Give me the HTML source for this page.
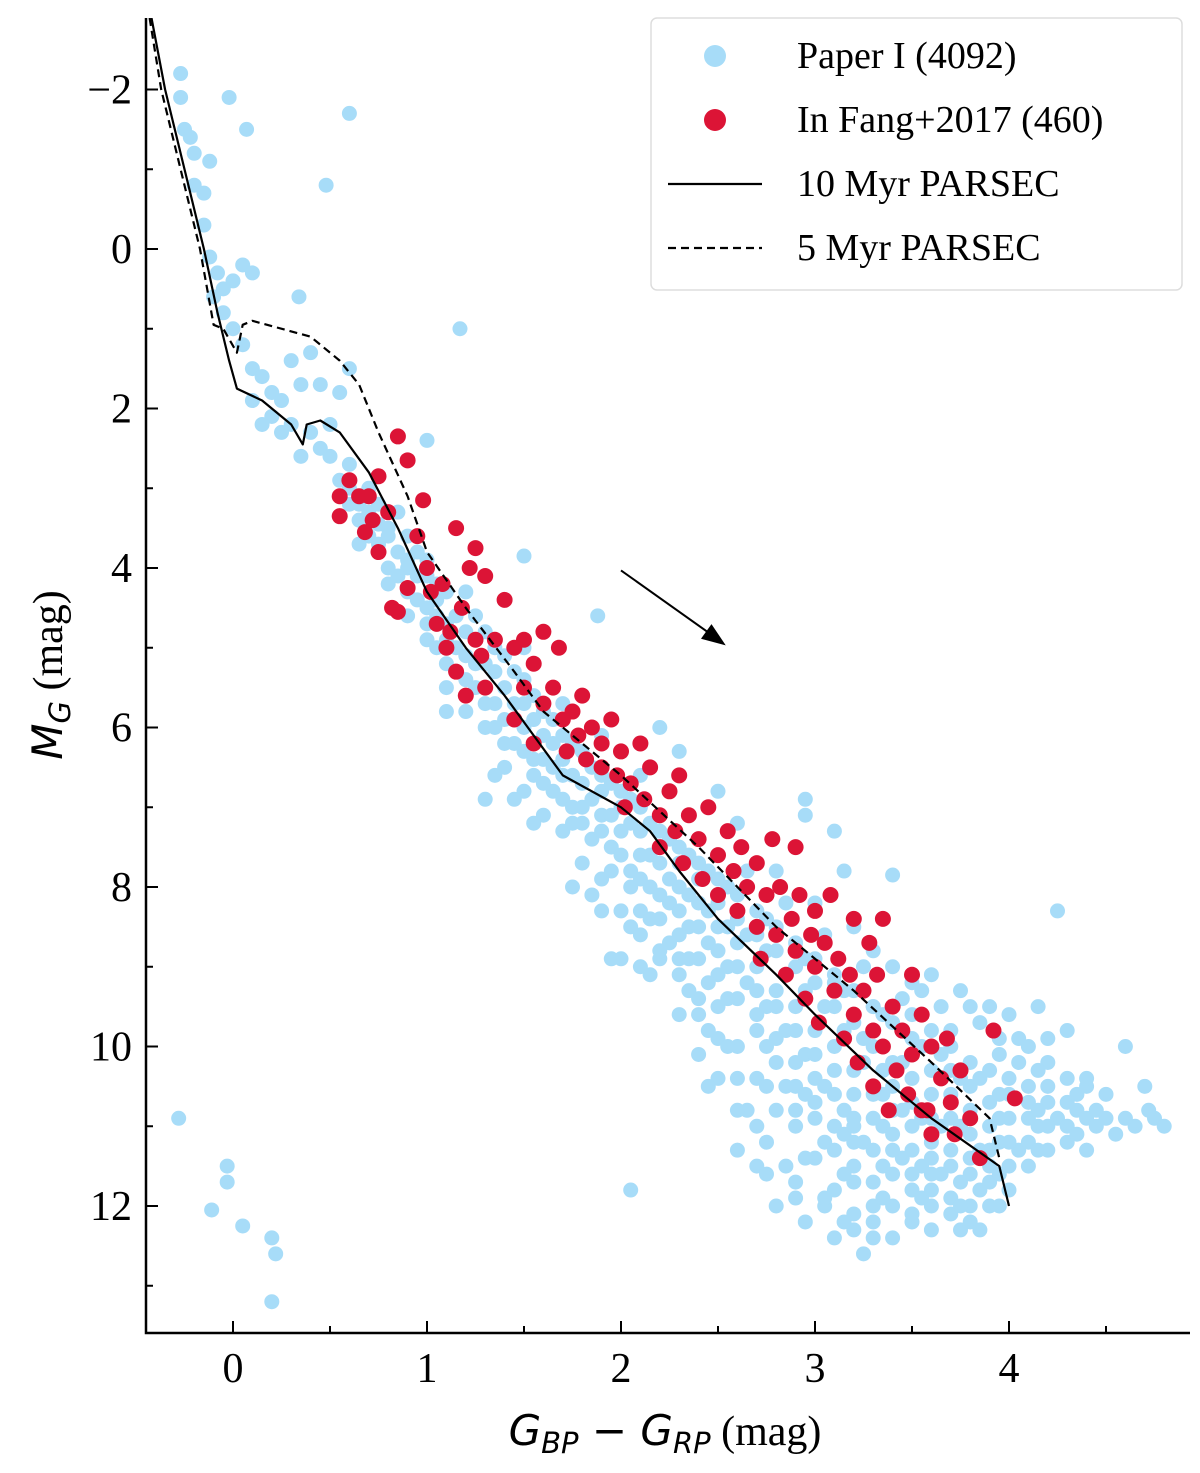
<!DOCTYPE html>
<html><head><meta charset="utf-8"><style>
html,body{margin:0;padding:0;background:#fff;}
svg{display:block;}
text{font-family:"Liberation Serif",serif;fill:#000;}
</style></head><body>
<svg id="chart" width="1200" height="1473" viewBox="0 0 1200 1473" xmlns="http://www.w3.org/2000/svg">
<g id="blue"></g>
<g id="red"></g>
<g id="lines"></g>
<g id="axes"></g>
</svg>
<script>
const xTicks = [0,1,2,3,4];
const yTicks = [-2,0,2,4,6,8,10,12];
const xMinor = [-0.5,0.5,1.5,2.5,3.5,4.5];
const yMinor = [-3,-1,1,3,5,7,9,11,13];
const bluePts = [[-0.27,-2.2],[-0.27,-1.9],[-0.25,-1.5],[-0.22,-1.4],[-0.2,-1.2],[-0.12,-1.1],[-0.2,-0.8],[-0.15,-0.7],[-0.02,-1.9],[0.07,-1.5],[0.6,-1.7],[0.48,-0.8],[0.34,0.6],[1.17,1.0],[0.6,1.5],[-0.28,10.9],[-0.03,11.5],[-0.03,11.7],[-0.11,12.05],[0.05,12.25],[0.2,12.4],[0.22,12.6],[0.2,13.2],[2.05,11.8],[3.4,7.85],[4.25,8.3],[1.5,3.85],[1.88,4.6],[1.0,2.4],
[-0.15,-0.3],[-0.12,0.1],[-0.08,0.3],[-0.05,0.5],[0,0.4],[-0.1,0.6],[-0.05,0.8],[0.05,0.2],[0.1,0.3],[0.0,1.0],[0.05,1.2],[0.1,1.5],[0.15,1.6],[0.2,1.8],[0.25,1.9],[0.1,1.9],[0.2,2.1],[0.3,2.2],[0.3,1.4],[0.4,1.3],[0.35,1.7],[0.45,1.7],[0.4,2.3],[0.5,2.6],[0.55,2.9],[0.6,2.7],[0.5,2.2],[0.45,2.5],[0.6,3.2],[0.65,3.4],[0.7,3.6],[0.6,3.0],[0.7,3.0],[0.55,1.8],[0.25,2.3],[0.15,2.2],[0.35,2.6],
[0.7,3.3],[0.75,3.7],[0.8,3.5],[0.8,4.0],[0.85,3.8],[0.9,3.9],[0.9,4.3],[0.95,4.1],[1.0,4.5],[1.0,4.9],[1.05,4.4],[1.1,4.7],[1.1,5.2],[1.15,5.0],[1.2,5.4],[1.2,5.8],[1.25,5.2],[1.3,5.5],[1.3,6.0],[1.35,5.7],[1.4,5.9],[1.4,6.5],[1.45,6.2],[1.5,6.0],[1.5,6.8],[1.55,6.4],[1.6,6.7],[1.6,7.1],[1.65,6.5],[1.7,6.9],[1.7,7.3],[1.75,7.0],[1.8,7.2],[1.8,7.7],[1.85,7.4],[1.9,7.1],[1.9,7.9],[1.95,7.5],[2.0,7.3],[2.0,8.3],[2.05,7.8],[2.1,7.6],[2.1,8.6],[2.15,8.0],[2.2,7.7],[2.2,8.9],[2.25,8.2],[2.3,8.0],[2.3,8.9],[2.35,8.5],[2.4,8.2],[2.4,9.4],[2.45,8.7],[2.5,8.5],[2.5,9.9],[2.55,9.0],[2.6,8.7],[2.6,10.0],[2.65,9.2],[2.7,9.0],[2.7,10.4],[2.75,9.5],[2.8,9.3],[2.8,10.8],[2.85,9.8],[2.9,9.5],[2.9,11.0],[2.95,10.1],[3.0,9.8],[3.0,11.4],[3.05,10.5],[3.1,10.0],[3.1,11.8],[3.15,10.8],[3.2,10.3],[3.2,12.1],[3.25,11.2],[3.3,10.6],[3.3,11.7],[3.35,11.0],[3.4,10.8],[3.4,12.0],[3.45,11.4],[3.5,11.0],[3.5,11.8],[3.55,11.5],[3.6,11.2],[3.6,12.0],[3.65,11.6],[3.7,11.3],[3.7,12.1],[3.75,11.7],[3.8,11.4],[3.8,12.2],[3.85,11.8],[3.9,11.5],[3.9,12.0],[3.95,11.2],[4.0,10.9],[4.0,11.8],[4.05,11.3],[4.1,10.7],[4.1,11.5],[4.15,11.0],[4.2,10.5],[4.2,11.3],[4.25,10.9],[4.3,10.4],[4.3,11.2],[4.35,10.8],[4.4,10.5],[4.4,11.3],[4.5,10.9],[4.55,11.1],[4.6,10.0],[4.65,11.0],[4.7,10.5],[4.75,10.9],[4.72,10.8],
[1.0,3.9],[1.2,4.3],[1.5,5.0],[1.7,5.7],[1.9,6.1],[2.1,6.6],[2.2,6.0],[2.3,6.3],[2.5,6.8],[2.6,7.2],[2.8,7.8],[2.95,6.9],[2.95,7.1],[3.0,8.2],[3.1,7.3],[3.15,7.8],[3.2,8.5],[3.3,8.8],[3.4,9.0],[3.5,9.2],[3.6,9.1],[3.65,9.5],[3.7,9.8],[3.75,9.3],[3.85,9.7],[3.9,9.5],[3.95,10.1],[4.0,9.6],[4.05,9.9],[4.1,10.0],[4.15,9.5],[4.2,9.9],[4.3,9.8],[3.3,9.5],[3.5,9.9],[3.6,10.3],[3.7,10.6],[3.8,10.8],[3.45,10.2],[3.25,9.9],[3.1,9.2],[3.35,10.3],
[1.9,8.3],[1.95,8.9],[2.0,8.9],[2.05,8.5],[2.1,9.0],[2.2,8.8],[2.3,9.1],[2.3,9.6],[2.35,9.3],[2.4,9.6],[2.45,9.8],[2.4,10.1],[2.5,10.4],[2.55,10.0],[2.6,10.4],[2.65,10.8],[2.7,11.0],[2.75,11.2],[2.85,11.5],[2.9,11.9],[2.95,12.2],[3.05,12.0],[3.1,12.4],[3.15,12.2],[3.25,12.6],[3.3,12.4],[2.8,12.0],[2.7,11.5],[1.85,8.1],[1.75,8.0],[1.45,6.9],[1.55,7.2],[1.35,6.6],[1.1,5.8],[1.3,6.9],[2.15,9.1],[2.45,10.5],[2.1,8.3],[2.5,9.5],[2.7,9.8],[2.85,10.5],[3.0,10.9],[3.2,11.5],[3.3,12.2],[3.5,12.2],[3.6,11.4],[3.75,12.3],[3.85,12.3],[3.95,12.0]];
// extra dense-band stars grouped by colour column: [colour, [magnitudes]]
const blueCols = [
[0.8,[3.6,4.2]],[0.9,[3.6,4.0,4.6]],[1.0,[4.1,4.7]],[1.1,[4.3,4.9,5.5]],[1.2,[4.8,5.1]],[1.3,[4.8,5.2,5.7]],
[1.4,[5.1,5.5,6.2]],[1.5,[5.4,5.7,6.3]],[1.6,[5.8,6.1,6.4]],[1.7,[6.1,6.4,6.6]],[1.8,[6.3,6.7,7.0]],
[1.9,[6.6,6.8,7.3]],[2.0,[6.8,7.0,7.6]],[2.1,[7.0,7.3,7.9]],[2.2,[7.3,7.5,8.1,8.4]],[2.3,[7.5,7.7,8.3,8.6]],
[2.4,[7.7,7.9,8.5,8.9]],[2.5,[7.9,8.2,8.8,9.1]],[2.6,[8.1,8.4,9.0,9.4]],[2.7,[8.3,8.6,9.3,9.6]],
[2.8,[8.5,8.8,9.5,9.9,10.2]],[2.9,[8.7,9.0,9.8,10.2,10.5]],[3.0,[8.9,9.2,10.1,10.4,10.7]],
[3.1,[9.1,9.5,10.3,10.6,11.0,11.3]],[3.2,[9.3,9.7,10.6,10.9,11.2,11.7]],[3.3,[9.5,10.0,10.9,11.3,12.0]],
[3.4,[9.7,10.2,10.5,11.1,11.6]],[3.5,[9.6,10.4,10.7,11.3,11.6,12.1]],[3.6,[9.8,10.6,10.9,11.6]],
[3.7,[10.0,10.3,10.9,11.5,11.9]],[3.8,[10.2,10.5,11.1,11.6,12.0]],[3.9,[10.3,10.7,11.0,11.3,11.7]],
[4.0,[10.4,10.6,11.2,11.5]],[4.1,[10.5,10.9,11.2]],[4.2,[10.2,10.7,11.0]],[4.3,[10.7,11.0]],[4.4,[10.4,10.9]],[4.5,[10.6]],
[3.55,[9.3]],[3.8,[9.5]],[3.95,[9.9]],[4.05,[10.2]],[2.65,[7.8,8.6]],[2.85,[8.2,9.1]],[3.05,[8.6,9.5]],[3.25,[9.0,10.2]],[3.45,[9.4,10.8]],[3.65,[10.1,11.0]],[3.85,[10.4,11.3]],
[0.65,[3.2,3.7]],[0.75,[3.2,3.45]],[0.85,[3.3,4.1]],[0.95,[3.8,4.4]],[1.05,[4.2,4.6,5.0]],[1.15,[4.6,5.3]],[1.25,[4.6,5.5]],[1.35,[5.0,5.3,6.0]],
[1.45,[5.3,5.7]],[1.55,[5.6,5.9,6.6]],[1.65,[5.9,6.2,6.8]],[1.75,[6.2,6.6,7.2]],[1.85,[6.5,6.9]],[1.95,[6.7,7.1,7.8]],[2.05,[6.9,7.2,8.0]],
[2.15,[7.2,7.6,8.4]],[2.25,[7.4,7.9,8.7]],[2.35,[7.6,8.1,8.9]],[2.45,[7.8,8.3,9.2]],[2.55,[8.0,8.5,9.4]],[2.75,[8.4,8.8,10.0]],
[2.95,[8.9,9.3,10.6,11.4]],[3.15,[9.3,9.8,11.1,11.6]],[3.35,[9.6,10.6,11.5,11.9]],[3.55,[10.0,10.9,11.9]],[3.75,[10.4,11.0,12.0]],
[3.95,[10.6,10.9,11.6]],[4.15,[10.3,10.8,11.3]],[4.35,[10.6,11.1]],[4.45,[10.8,11.0]],[4.6,[10.9]],[4.8,[11.0]],
[2.6,[10.8,11.3]],[2.75,[10.5,11.6]],[2.9,[10.8,11.7]],[3.05,[11.2,11.9]],[3.2,[11.0,12.3]],[3.4,[11.3,12.4]],[3.6,[11.8,12.3]]
];
const redPts = [[0.55,3.1],[0.55,3.35],[0.6,2.9],[0.65,3.1],[0.68,3.55],[0.7,3.1],[0.72,3.4],[0.75,2.85],[0.75,3.8],[0.8,3.3],[0.82,4.5],[0.85,4.55],[0.85,2.35],[0.9,2.65],[0.9,4.25],[0.95,3.6],[0.98,3.15],[1.0,4.0],[1.02,4.3],[1.05,4.7],[1.08,4.2],[1.1,5.0],[1.12,4.8],[1.15,3.5],[1.15,5.3],[1.18,4.5],[1.2,5.6],[1.22,4.0],[1.25,3.75],[1.25,4.9],[1.28,5.1],[1.3,4.1],[1.3,5.5],[1.35,4.9],[1.4,4.4],[1.45,5.0],[1.45,5.9],[1.5,5.5],[1.5,4.9],[1.55,5.2],[1.55,6.2],[1.6,4.8],[1.6,5.7],[1.65,5.5],[1.68,5.0],[1.7,5.9],[1.72,6.3],[1.75,5.8],[1.78,6.1],[1.8,5.6],[1.82,6.4],[1.85,6.0],[1.9,6.5],[1.9,6.2],[1.95,5.9],[1.98,6.6],[2.0,6.3],[2.02,7.0],[2.05,6.7],[2.1,6.2],[2.12,6.9],[2.15,6.5],[2.2,7.1],[2.2,7.5],[2.25,6.8],[2.28,7.3],[2.3,6.6],[2.32,7.7],[2.35,7.1],[2.4,7.4],[2.42,7.9],[2.45,7.0],[2.5,7.6],[2.5,8.1],[2.55,7.3],[2.58,7.8],[2.6,8.3],[2.62,7.5],[2.65,8.0],[2.7,7.7],[2.7,8.5],[2.72,8.9],[2.75,8.1],[2.78,7.4],[2.8,8.6],[2.82,8.0],[2.85,9.1],[2.88,8.4],[2.9,7.5],[2.9,8.8],[2.92,8.1],[2.95,9.4],[2.98,8.6],[3.0,8.3],[3.0,9.0],[3.02,9.7],[3.05,8.7],[3.08,8.1],[3.1,9.3],[3.12,8.9],[3.15,9.9],[3.18,9.1],[3.2,8.4],[3.2,9.6],[3.22,10.2],[3.25,9.3],[3.28,8.7],[3.3,9.8],[3.3,10.5],[3.32,9.1],[3.35,10.0],[3.35,8.4],[3.38,10.8],[3.4,9.5],[3.42,10.3],[3.45,9.8],[3.48,10.6],[3.5,9.1],[3.5,10.1],[3.55,9.6],[3.55,10.8],[3.6,10.0],[3.6,11.1],[3.65,10.4],[3.68,9.9],[3.7,10.7],[3.72,11.1],[3.75,10.3],[3.8,10.9],[3.85,11.4],[3.92,9.8],[4.03,10.65],[3.58,10.8]];
const iso10c = [-0.42,-0.35,-0.25,-0.15,-0.08,-0.02,0.02,0.15,0.3,0.36,0.38,0.45,0.55,0.7,0.85,1.0,1.2,1.4,1.55,1.7,2.0,2.15,2.3,2.5,2.8,3.0,3.3,3.6,3.95,4.0];
const iso10m = [-2.9,-2,-1,0,0.8,1.4,1.75,1.9,2.2,2.45,2.2,2.15,2.3,2.8,3.5,4.3,5.0,5.6,6.1,6.6,7.0,7.3,7.8,8.4,9.1,9.6,10.3,10.9,11.5,12.0];
const iso5c = [-0.43,-0.37,-0.27,-0.17,-0.1,-0.05,0.02,0.05,0.1,0.4,0.55,0.65,0.75,0.9,1.0,1.2,1.45,1.6,2.0,2.4,2.8,3.2,3.6,3.9,3.95];
const iso5m = [-2.9,-2,-1,0,0.95,1.0,1.3,0.95,0.9,1.1,1.4,1.7,2.3,3.1,3.8,4.5,5.3,5.8,6.6,7.5,8.5,9.3,10.2,10.9,11.4];
const arrowC = [2.0,2.54];
const arrowM = [4.03,4.97];

const NS='http://www.w3.org/2000/svg';
const X0=146,X1=1190,Y0=18,Y1=1333;
const sx=v=>233+v*194;
const sy=v=>249+v*79.75;
function mk(tag,attrs,parent){const e=document.createElementNS(NS,tag);for(const k in attrs)e.setAttribute(k,attrs[k]);parent.appendChild(e);return e;}
const gB=document.getElementById('blue'),gR=document.getElementById('red'),gL=document.getElementById('lines'),gA=document.getElementById('axes');
const allBlue = bluePts.slice();
blueCols.forEach(col=>col[1].forEach(m=>allBlue.push([col[0],m])));
allBlue.forEach(p=>{const c=mk('circle',{cx:sx(p[0]),cy:sy(p[1]),r:7.5,fill:'#a7dcf8'},gB);

});
redPts.forEach(p=>{const c=mk('circle',{cx:sx(p[0]),cy:sy(p[1]),r:8,fill:'#dc1436'},gR);

});
function line(cs,ms,dash,name){let d=cs.map((c,i)=>(i?'L':'M')+sx(c).toFixed(1)+','+Math.max(Y0,sy(ms[i])).toFixed(1)).join('');
const p=mk('path',{d:d,fill:'none',stroke:'#000','stroke-width':2.2,'stroke-dasharray':dash,'stroke-linejoin':'round'},gL);

}
line(iso5c,iso5m,'8,5','isochrone-5myr');
line(iso10c,iso10m,'none','isochrone-10myr');
{const x1=sx(arrowC[0]),y1=sy(arrowM[0]),x2=sx(arrowC[1]),y2=sy(arrowM[1]);
const a=mk('line',{x1:x1,y1:y1,x2:x2-12,y2:y2-9,stroke:'#000','stroke-width':2},gL);


const ang=Math.atan2(y2-y1,x2-x1),L=24,W=9;
const bx=x2-L*Math.cos(ang),by=y2-L*Math.sin(ang);
const h=mk('polygon',{points:`${x2},${y2} ${bx-W*Math.sin(ang)},${by+W*Math.cos(ang)} ${bx+W*Math.sin(ang)},${by-W*Math.cos(ang)}`,fill:'#000'},gL);

}
mk('rect',{x:0,y:0,width:1200,height:Y0,fill:'#fff'},gA);
const ax=mk('path',{d:`M${X0},${Y0}V${Y1}H${X1}`,fill:'none',stroke:'#000','stroke-width':2.5},gA);


xTicks.forEach(v=>{mk('line',{x1:sx(v),x2:sx(v),y1:Y1,y2:Y1-12,stroke:'#000','stroke-width':2},gA);
const t=mk('text',{x:sx(v),y:1382,'text-anchor':'middle','font-size':42},gA);t.textContent=v;

});
xMinor.forEach(v=>{if(sx(v)>X0)mk('line',{x1:sx(v),x2:sx(v),y1:Y1,y2:Y1-7,stroke:'#000','stroke-width':2},gA);});
yTicks.forEach(v=>{mk('line',{x1:X0,x2:X0+12,y1:sy(v),y2:sy(v),stroke:'#000','stroke-width':2},gA);
const t=mk('text',{x:132,y:sy(v)+14,'text-anchor':'end','font-size':42},gA);t.textContent=(v<0?'\u2212'+(-v):v);

});
yMinor.forEach(v=>{const y=sy(v);if(y>Y0&&y<Y1)mk('line',{x1:X0,x2:X0+7,y1:y,y2:y,stroke:'#000','stroke-width':2},gA);});
</script>
<svg style="position:absolute;left:0;top:0" width="1200" height="1473" xmlns="http://www.w3.org/2000/svg">
<text x="665" y="1445" text-anchor="middle" font-size="42"><tspan font-family="DejaVu Sans" font-style="italic">G</tspan><tspan font-family="DejaVu Sans" font-style="italic" font-size="29" dy="8">BP</tspan><tspan font-family="DejaVu Sans" dy="-8"> − </tspan><tspan font-family="DejaVu Sans" font-style="italic">G</tspan><tspan font-family="DejaVu Sans" font-style="italic" font-size="29" dy="8">RP</tspan><tspan dy="-8"> (mag)</tspan></text>
<text transform="translate(62,675) rotate(-90)" text-anchor="middle" font-size="42"><tspan font-family="DejaVu Sans" font-style="italic">M</tspan><tspan font-family="DejaVu Sans" font-style="italic" font-size="29" dy="8">G</tspan><tspan dy="-8"> (mag)</tspan></text>
<g>
<rect x="651" y="18" width="531" height="272" rx="6" fill="#fff" fill-opacity="0.85" stroke="#ddd" stroke-width="1.5"/>
<circle cx="715" cy="56" r="11" fill="#a7dcf8"/>
<text x="797" y="68" font-size="38">Paper I (4092)</text>
<circle cx="715" cy="120" r="11" fill="#dc1436"/>
<text x="797" y="132" font-size="38">In Fang+2017 (460)</text>
<line x1="668" y1="184" x2="762" y2="184" stroke="#000" stroke-width="2.2"/>
<text x="797" y="196" font-size="38">10 Myr PARSEC</text>
<line x1="668" y1="248" x2="762" y2="248" stroke="#000" stroke-width="2.2" stroke-dasharray="8,5"/>
<text x="797" y="260" font-size="38">5 Myr PARSEC</text>
</g>
</svg>
</body></html>
